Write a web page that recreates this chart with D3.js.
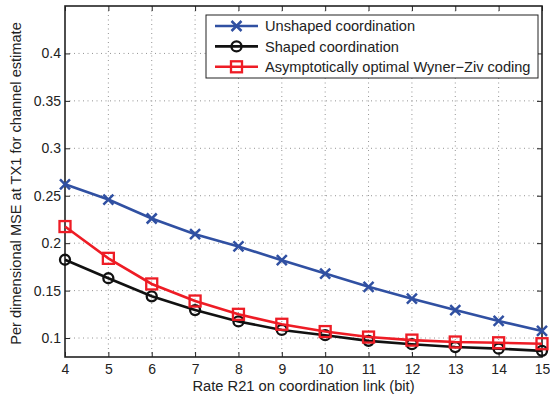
<!DOCTYPE html>
<html>
<head>
<meta charset="utf-8">
<script src="https://cdn.jsdelivr.net/npm/d3@7"></script>
<style>
  body { margin: 0; background: #fff; }
  svg { display: block; font-family: "Liberation Sans", Arial, sans-serif; }
</style>
</head>
<body>
<svg id="chart" width="550" height="396"></svg>
<script>
// chart data
const rates = [4, 5, 6, 7, 8, 9, 10, 11, 12, 13, 14, 15];
const unshaped = [0.262, 0.246, 0.226, 0.2095, 0.1965, 0.182, 0.168, 0.154, 0.1415, 0.1295, 0.118, 0.1075];
const shaped = [0.1825, 0.163, 0.144, 0.1295, 0.1175, 0.1085, 0.103, 0.097, 0.0935, 0.0905, 0.0888, 0.0865];
const wynerZiv = [0.2175, 0.184, 0.157, 0.139, 0.125, 0.1145, 0.1068, 0.101, 0.0978, 0.0958, 0.095, 0.094];
const xTicks = [4, 5, 6, 7, 8, 9, 10, 11, 12, 13, 14, 15];
const yTicks = [0.1, 0.15, 0.2, 0.25, 0.3, 0.35, 0.4];

const seriesList = [
    { name: 'Unshaped coordination', values: unshaped, color: '#3050a2', marker: 'x' },
    { name: 'Shaped coordination', values: shaped, color: '#111111', marker: 'o' },
    { name: 'Asymptotically optimal Wyner\u2212Ziv coding', values: wynerZiv, color: '#ee1c25', marker: 's' }
];

const svg = d3.select('#chart');
const plotL = 65, plotR = 542, plotT = 6, plotB = 357;

const x = d3.scaleLinear().domain([4, 15]).range([plotL, plotR]);
const y = d3.scaleLinear().domain([0.08, 0.45]).range([plotB, plotT]);

// grid
const grid = svg.append('g').attr('stroke', '#777').attr('stroke-width', 0.8)
    .attr('stroke-dasharray', '1,3.5');
xTicks.slice(1, -1).forEach(t => {
    grid.append('line').attr('x1', x(t)).attr('x2', x(t)).attr('y1', plotT).attr('y2', plotB);
});
yTicks.forEach(t => {
    grid.append('line').attr('x1', plotL).attr('x2', plotR).attr('y1', y(t)).attr('y2', y(t));
});

// axes with inward ticks
const axisB = svg.append('g').attr('transform', `translate(0,${plotB})`)
    .call(d3.axisBottom(x).tickValues(xTicks).tickFormat(d3.format('d')).tickSizeInner(-5).tickSizeOuter(0).tickPadding(7));
const axisL = svg.append('g').attr('transform', `translate(${plotL},0)`)
    .call(d3.axisLeft(y).tickValues(yTicks).tickFormat(d => String(d)).tickSizeInner(-5).tickSizeOuter(0).tickPadding(4));
const axisT = svg.append('g').attr('transform', `translate(0,${plotT})`)
    .call(d3.axisTop(x).tickValues(xTicks).tickFormat('').tickSizeInner(-5).tickSizeOuter(0));
const axisR = svg.append('g').attr('transform', `translate(${plotR},0)`)
    .call(d3.axisRight(y).tickValues(yTicks).tickFormat('').tickSizeInner(-5).tickSizeOuter(0));

[axisB, axisL, axisT, axisR].forEach(a => {
    a.select('.domain').remove();
    a.selectAll('line').attr('stroke', '#222').attr('stroke-width', 1);
    a.selectAll('text').attr('fill', '#222').style('font-size', '14px');
});

// frame
svg.append('rect').attr('x', plotL).attr('y', plotT).attr('width', plotR - plotL).attr('height', plotB - plotT)
    .attr('fill', 'none').attr('stroke', '#222').attr('stroke-width', 1.6);

// series
const line = d3.line().x((d, i) => x(rates[i])).y(d => y(d));

function drawMarker(g, type, cx, cy, color) {
    if (type === 'x') {
        const s = 5;
        g.append('path').attr('d', `M${cx - s},${cy - s}L${cx + s},${cy + s}M${cx - s},${cy + s}L${cx + s},${cy - s}`)
            .attr('stroke', color).attr('stroke-width', 2.5).attr('fill', 'none');
    } else if (type === 'o') {
        g.append('circle').attr('cx', cx).attr('cy', cy).attr('r', 5)
            .attr('stroke', color).attr('stroke-width', 2.3).attr('fill', 'none');
    } else {
        g.append('rect').attr('x', cx - 5.5).attr('y', cy - 5.5).attr('width', 11).attr('height', 11)
            .attr('stroke', color).attr('stroke-width', 2.3).attr('fill', 'none');
    }
}

seriesList.forEach(s => {
    const g = svg.append('g');
    g.append('path').attr('d', line(s.values)).attr('fill', 'none')
        .attr('stroke', s.color).attr('stroke-width', 2.6);
    s.values.forEach((v, i) => drawMarker(g, s.marker, x(rates[i]), y(v), s.color));
});

// legend
const legend = svg.append('g');
legend.append('rect').attr('x', 206).attr('y', 15).attr('width', 332).attr('height', 63)
    .attr('fill', '#fff').attr('stroke', '#222').attr('stroke-width', 1);
seriesList.forEach((s, i) => {
    const ly = 26 + i * 20.4;
    legend.append('line').attr('x1', 215).attr('x2', 258).attr('y1', ly).attr('y2', ly)
        .attr('stroke', s.color).attr('stroke-width', 2.6);
    drawMarker(legend, s.marker, 236.5, ly, s.color);
    legend.append('text').attr('x', 265).attr('y', ly).attr('dy', '0.36em')
        .style('font-size', '14.6px').attr('fill', '#222').text(s.name);
});

// axis labels
svg.append('text').attr('x', 303.5).attr('y', 390.5).attr('text-anchor', 'middle')
    .style('font-size', '14.7px').attr('fill', '#222').text('Rate R21 on coordination link (bit)');
svg.append('text').attr('transform', `translate(21,183.5) rotate(-90)`)
    .attr('text-anchor', 'middle').style('font-size', '14.6px').attr('fill', '#222')
    .text('Per dimensional MSE at TX1 for channel estimate');
</script>
</body>
</html>
